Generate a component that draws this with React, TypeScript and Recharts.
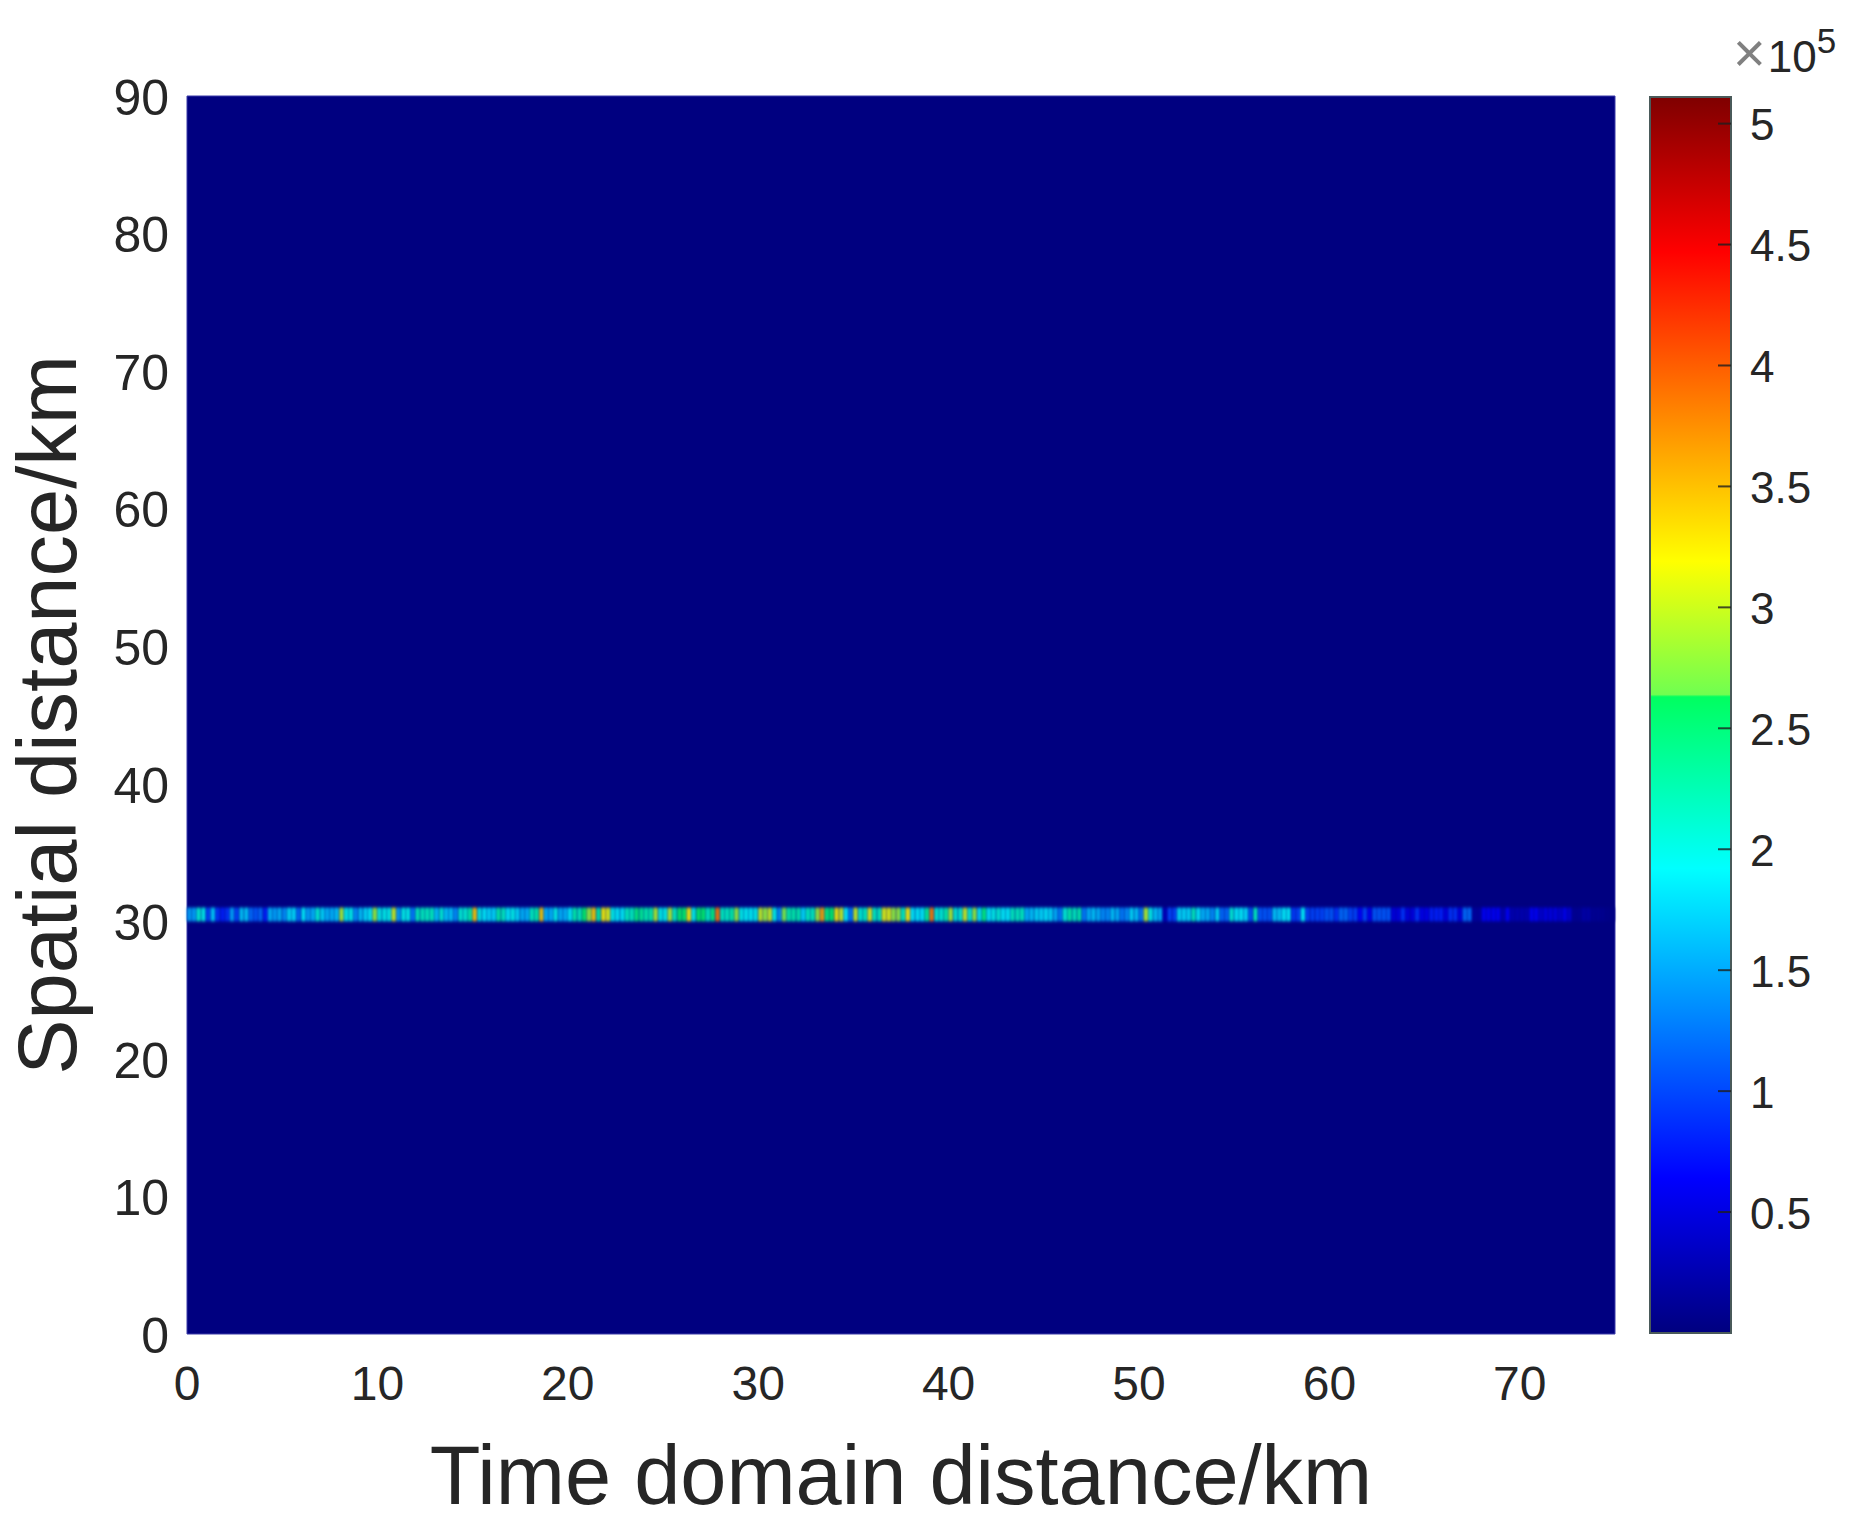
import React from 'react';
import { ComposedChart, Bar, Cell, XAxis, YAxis, ReferenceArea } from 'recharts';

const xTicks = [0, 10, 20, 30, 40, 50, 60, 70];
const yTicks = [0, 10, 20, 30, 40, 50, 60, 70, 80, 90];
const colorbarTicks = [0.5, 1, 1.5, 2, 2.5, 3, 3.5, 4, 4.5, 5];
const xTitle = 'Time domain distance/km';
const yTitle = 'Spatial distance/km';
const binKm = 0.25;
const band = [30, 31];

// Intensity (x 10^5) along the 30-31 km band, one value per 0.25 km of time-domain distance
const stripA = [
  1.5, 1.5, 2.1, 2.0, 1.0, 1.7, 0.9, 0.8, 0.9, 1.5, 1.0, 1.7, 1.7, 1.2, 1.1, 1.2, 0.8, 1.6, 1.5, 1.6,
  1.4, 1.8, 1.8, 1.2, 1.9, 1.5, 1.6, 2.1, 1.8, 1.6, 1.6, 1.7, 2.9, 2.0, 2.0, 1.4, 1.7, 1.8, 1.9, 2.8,
  2.0, 2.0, 2.0, 3.0, 1.5, 2.0, 2.0, 1.3, 2.2, 2.2, 2.2, 2.2, 1.7, 2.1, 1.7, 1.7, 1.4, 2.1, 2.1, 2.3,
  3.4, 2.0, 1.9, 1.8, 1.8, 2.3, 2.2, 1.9, 2.0, 1.8, 1.6, 1.6, 2.2, 2.3, 3.4, 1.6, 1.6, 2.0, 1.6, 1.6,
  1.9, 2.3, 2.2, 2.6, 2.8, 3.4, 2.3, 3.2, 3.1, 2.0, 1.9, 1.9, 2.2, 2.2, 2.5, 2.4, 2.3, 2.3, 2.9, 2.0, 2.0,
];
const stripB = [
  2.9, 2.2, 2.6, 2.6, 3.2, 2.0, 2.6, 2.6, 2.2, 2.5, 3.8, 2.2, 2.2, 2.3, 2.8, 2.0, 1.95, 1.95, 2.0, 3.0,
  2.8, 3.0, 2.0, 1.4, 2.7, 2.3, 2.3, 2.3, 1.8, 2.2, 2.2, 2.8, 3.6, 2.5, 2.6, 3.2, 3.0, 1.9, 1.3, 3.0,
  2.1, 2.2, 3.1, 2.2, 2.2, 3.1, 3.1, 2.8, 2.8, 2.2, 3.2, 1.9, 1.9, 1.9, 2.4, 3.8, 2.1, 2.1, 2.3, 2.9,
  2.1, 2.1, 3.0, 2.1, 2.8, 1.9, 2.5, 1.9, 2.0, 2.1, 1.9, 1.9, 2.2, 2.2, 2.2, 1.6, 1.7, 1.8, 1.8, 1.85,
  1.8, 1.6, 1.3, 2.1, 2.3, 2.2, 2.3, 1.3, 1.6, 1.7, 1.6, 1.4, 1.4, 1.7, 1.6, 1.3, 1.4, 1.8, 1.7, 1.3,
  2.9, 2.0, 1.7, 1.6, 0.3,
];
const stripC = [
  1.0, 1.0, 1.8, 1.8, 1.8, 2.2, 1.9, 1.6, 1.6, 1.4, 1.8, 1.2, 1.2, 2.1, 1.9, 1.9, 1.8, 1.1, 2.2, 1.1,
  1.1, 1.1, 1.7, 1.7, 1.9, 1.9, 0.95, 1.0, 1.9, 1.0, 1.0, 1.0, 1.0, 1.1, 1.1, 0.9, 1.2, 1.2, 1.0, 1.0,
  0.65, 1.0, 0.6, 1.1, 1.1, 1.1, 1.1, 0.5, 0.5, 0.9, 0.5, 0.5, 0.9, 0.55, 0.55, 0.8, 0.8, 0.8, 0.5, 0.9,
  0.9, 0.5, 1.2, 1.2, 0.15, 0.15, 0.6, 0.6, 0.6, 0.6, 0.25, 0.6, 0.25, 0.25, 0.25, 0.25, 0.6, 0.6, 0.4, 0.5,
  0.5, 0.5, 0.4, 0.55, 0.4, 0.1, 0.1, 0.2, 0.2, 0.1, 0.1, 0.08, 0.05, 0.03,
];
const stripValues = [...stripA, ...stripB, ...stripC];

const colorMax = 5.11;
const stops: [number, string][] = [
  [5.11, '#7f0000'], [4.47, '#ff0000'], [3.83, '#ff8000'], [3.19, '#ffff00'], [2.64, '#70ff50'],
  [2.63, '#00ff60'], [1.92, '#00ffff'], [1.28, '#0080ff'], [0.64, '#0000ff'], [0, '#00007f'],
];

const hex = (s: string) => [1, 3, 5].map((i) => parseInt(s.slice(i, i + 2), 16));
function jet(v: number) {
  for (let i = 0; i < stops.length - 1; i++) {
    const [hi, ch] = stops[i];
    const [lo, cl] = stops[i + 1];
    if (v <= hi && v >= lo) {
      const t = (v - lo) / (hi - lo);
      const a = hex(cl);
      const b = hex(ch);
      return `rgb(${a.map((c, k) => Math.round(c + (b[k] - c) * t)).join(',')})`;
    }
  }
  return '#00007f';
}

const stripData = stripValues.map((v, i) => ({ x: (i + 0.5) * binKm, band, v }));
const colorbarData = [{ name: 'scale', range: [0, colorMax] }];

const W = 1864;
const H = 1535;
const ink = '#262626';
const layer: React.CSSProperties = { position: 'absolute', left: 0, top: 0 };

export default function App() {
  return (
    <div style={{ position: 'absolute', left: 0, top: 0, width: W, height: H, background: '#fff', overflow: 'hidden', fontFamily: '"Liberation Sans", Arial, sans-serif' }}>
      <style>{`.strip-bars{filter:url(#stripBlur)}`}</style>
      <div style={layer}>
        <ComposedChart width={W} height={H} data={stripData} margin={{ left: 186, right: 249, top: 96, bottom: 200 }}>
          <defs>
            <filter id="stripBlur" x="-2%" y="-100%" width="104%" height="300%" colorInterpolationFilters="sRGB">
              <feGaussianBlur stdDeviation="1 1.2" />
            </filter>
          </defs>
          <XAxis
            dataKey="x"
            type="number"
            domain={[0, 75]}
            ticks={xTicks}
            interval={0}
            height={1}
            axisLine={false}
            tickLine={false}
            tickMargin={26}
            tick={{ fontSize: 48, fill: ink, fontFamily: '"Liberation Sans"' }}
            label={{ value: xTitle, position: 'bottom', offset: 110, fontSize: 83, fill: ink, fontFamily: '"Liberation Sans"' }}
          />
          <YAxis
            type="number"
            domain={[0, 90]}
            ticks={yTicks}
            interval={0}
            width={1}
            axisLine={false}
            tickLine={false}
            tickMargin={12}
            tick={{ fontSize: 50, fill: ink, fontFamily: '"Liberation Sans"', dy: 1 }}
            label={{ value: yTitle, angle: -90, position: 'left', offset: 139, fontSize: 83, fill: ink, fontFamily: '"Liberation Sans"', textAnchor: 'middle' }}
          />
          <ReferenceArea x1={0} x2={75} y1={0} y2={90} fill="#000080" fillOpacity={1} stroke="#3a3aa8" strokeWidth={1} />
          <Bar dataKey="band" barSize={7} isAnimationActive={false} className="strip-bars">
            {stripData.map((d) => (
              <Cell key={d.x} fill={jet(d.v)} />
            ))}
          </Bar>
        </ComposedChart>
      </div>
      <div style={layer}>
        <ComposedChart width={W} height={H} data={colorbarData} barCategoryGap={0} margin={{ left: 1650, right: 132, top: 97, bottom: 202 }}>
          <defs>
            <linearGradient id="jetScale" x1="0" y1="0" x2="0" y2="1">
              {stops.map(([v, c]) => (
                <stop key={v} offset={(colorMax - v) / colorMax} stopColor={c} />
              ))}
            </linearGradient>
          </defs>
          <XAxis dataKey="name" hide />
          <YAxis
            yAxisId="r"
            orientation="right"
            type="number"
            domain={[0, colorMax]}
            ticks={colorbarTicks}
            interval={0}
            width={1}
            axisLine={false}
            tickSize={-13}
            tickMargin={32}
            tickLine={{ stroke: 'rgba(30,30,30,0.8)', strokeWidth: 2 }}
            tick={{ fontSize: 44, fill: ink, fontFamily: '"Liberation Sans"', textAnchor: 'start', dy: 1 }}
          />
          <Bar yAxisId="r" dataKey="range" fill="url(#jetScale)" stroke="#4a5a5a" strokeWidth={2} isAnimationActive={false} />
        </ComposedChart>
      </div>
      <div style={{ position: 'absolute', left: 1733, top: 32, fontSize: 44, lineHeight: '50px', color: ink, whiteSpace: 'nowrap' }}>
        <span style={{ color: '#808080', fontSize: 56, fontWeight: 300, lineHeight: 0, marginRight: 2 }}>×</span>10<sup style={{ fontSize: 35, lineHeight: 0, position: 'relative', top: -3, verticalAlign: 'super' }}>5</sup>
      </div>
    </div>
  );
}
